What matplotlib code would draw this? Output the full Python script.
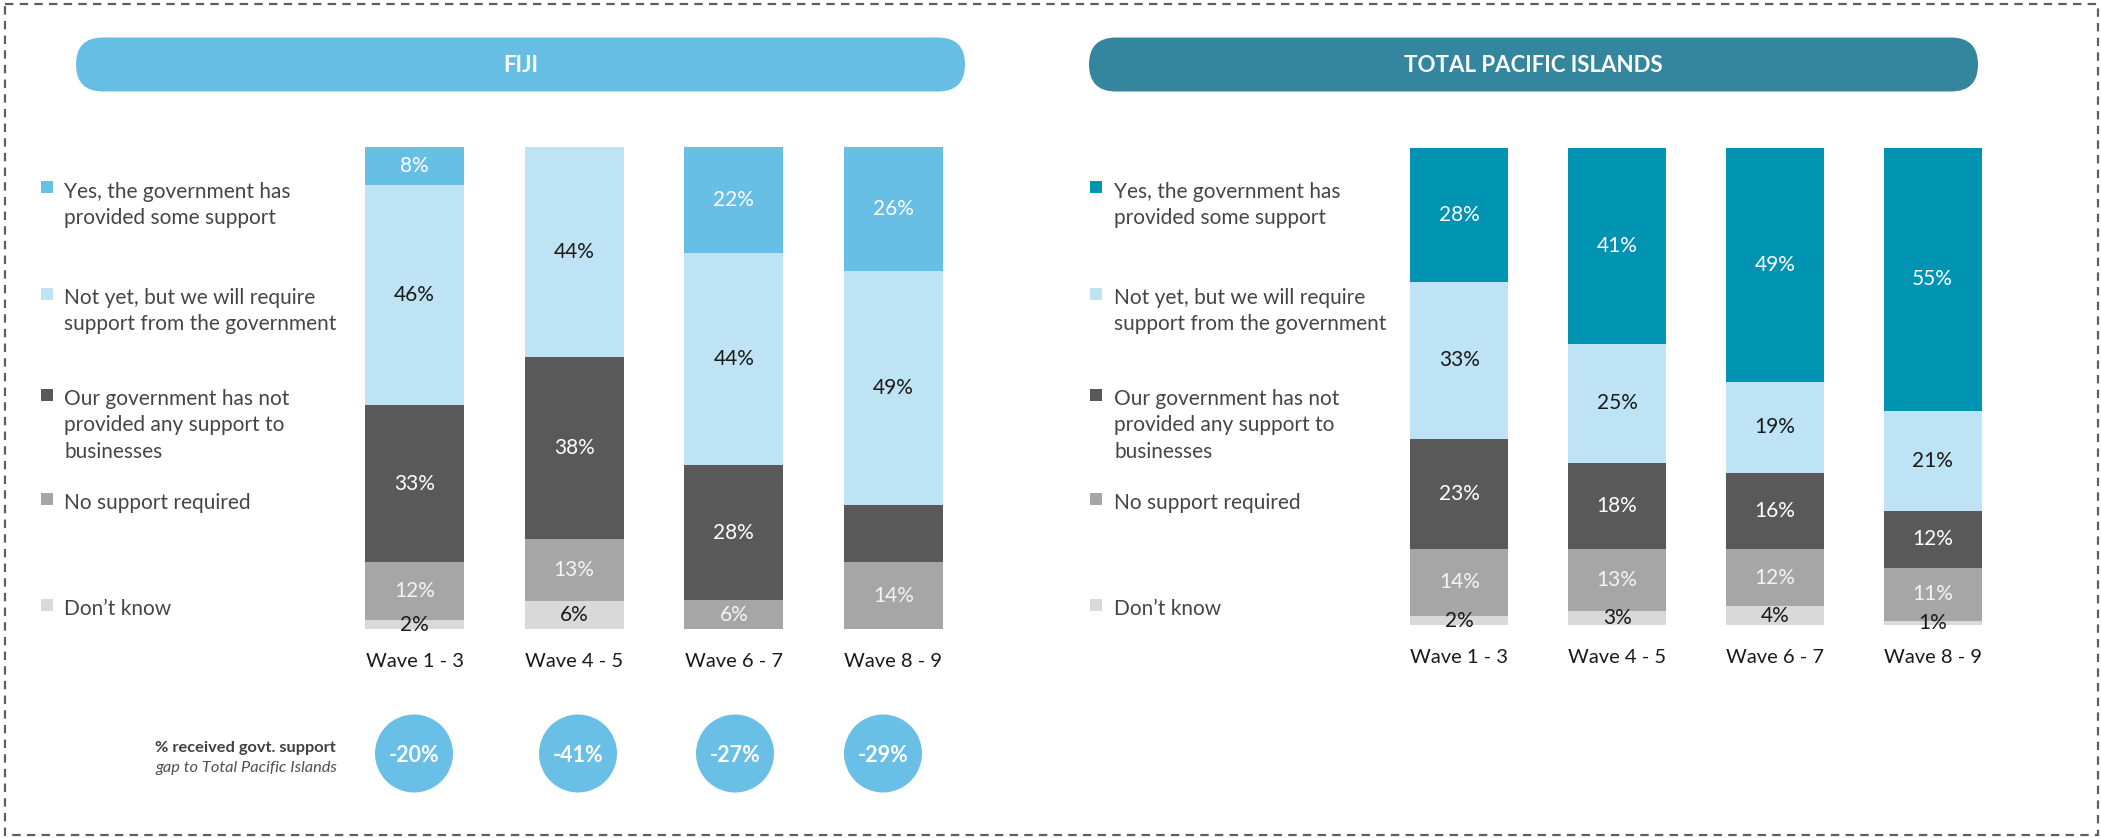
import matplotlib
matplotlib.use("Agg")
import matplotlib.pyplot as plt
from matplotlib.patches import FancyBboxPatch, Rectangle, Circle
import matplotlib.transforms as mtransforms

plt.rcParams['font.family'] = ['Lato', 'DejaVu Sans']

# ---------------- data ----------------
waves = ["Wave 1 - 3", "Wave 4 - 5", "Wave 6 - 7", "Wave 8 - 9"]
categories = ["Yes, the government has\nprovided some support",
              "Not yet, but we will require\nsupport from the government",
              "Our government has not\nprovided any support to\nbusinesses",
              "No support required",
              "Don\u2019t know"]

fiji_yes = [8, 0, 22, 26]
fiji_notyet = [46, 44, 44, 49]
fiji_notprov = [33, 38, 28, 12]
fiji_nosupport = [12, 13, 6, 14]
fiji_dk = [2, 6, 0, 0]
fiji_hidden_labels = [(2, 3)]  # (category index, wave index) not labelled in original

tpi_yes = [28, 41, 49, 55]
tpi_notyet = [33, 25, 19, 21]
tpi_notprov = [23, 18, 16, 12]
tpi_nosupport = [14, 13, 12, 11]
tpi_dk = [2, 3, 4, 1]

gap_values = ["-20%", "-41%", "-27%", "-29%"]

# ---------------- style ----------------
W, H = 2101, 838
FIJI_BLUE = "#68BFE5"
TPI_TEAL = "#0093B2"
NOTYET = "#BEE3F4"
NOTPROV = "#595959"
NOSUP = "#A6A6A6"
DK = "#D9D9D9"
fiji_colors = [FIJI_BLUE, NOTYET, NOTPROV, NOSUP, DK]
tpi_colors = [TPI_TEAL, NOTYET, NOTPROV, NOSUP, DK]
label_colors = ["white", "#1a1a1a", "white", "#f4f4f4", "#1a1a1a"]

fig = plt.figure(figsize=(W / 100, H / 100), dpi=100)
fig.patch.set_facecolor("white")

bg = fig.add_axes([0, 0, 1, 1])
bg.set_xlim(0, W)
bg.set_ylim(H, 0)
bg.axis("off")


def px_axes(left, right, top, bottom):
    return fig.add_axes([left / W, 1 - bottom / H, (right - left) / W, (bottom - top) / H])


# dashed frame
bg.add_patch(Rectangle((5, 4.5), 2093, 830.5, fill=False, edgecolor="#5f5f5f",
                       linewidth=1.6, linestyle=(0, (3.8, 2.8))))

# banners
for (x0, x1, col, txt) in [(76, 965, "#67BEE5", "FIJI"),
                           (1089, 1978, "#33869E", "TOTAL PACIFIC ISLANDS")]:
    bg.add_patch(FancyBboxPatch((x0, 37.5), x1 - x0, 54,
                                boxstyle="round,pad=0,rounding_size=27",
                                facecolor=col, edgecolor="none"))
    bg.text((x0 + x1) / 2, 65, txt, color="white", fontsize=16, fontweight="bold",
            ha="center", va="center")

# legends
legend_first_line_y = [191, 297, 398, 502, 608]
for (sq_x, txt_x, cols) in [(41, 64, fiji_colors), (1090, 1114, tpi_colors)]:
    for i, lab in enumerate(categories):
        y0 = legend_first_line_y[i]
        bg.add_patch(Rectangle((sq_x, y0 - 9.5), 12, 12, facecolor=cols[i], edgecolor="none"))
        for k, line in enumerate(lab.split("\n")):
            bg.text(txt_x, y0 + 7 + k * 26.3, line, color="#454545", fontsize=15,
                    ha="left", va="baseline")


def draw_panel(ax, series, colors, base_px, hidden=()):
    n = len(waves)
    totals = [sum(s[j] for s in series) for j in range(n)]
    bottoms = [0.0] * n
    order = list(range(len(series)))[::-1]
    for ci in order:
        vals = series[ci]
        heights = [vals[j] / totals[j] * 100 for j in range(n)]
        ax.bar(range(n), heights, bottom=bottoms, width=0.62, color=colors[ci], linewidth=0)
        for j in range(n):
            if vals[j] > 0 and (ci, j) not in hidden:
                ax.text(j, bottoms[j] + heights[j] / 2, f"{vals[j]}%", ha="center",
                        va="center", fontsize=15, color=label_colors[ci])
        bottoms = [bottoms[j] + heights[j] for j in range(n)]
    ax.set_xlim(-0.5, n - 0.5)
    ax.set_ylim(0, 100)
    ax.axis("off")
    tr = mtransforms.blended_transform_factory(ax.transData, bg.transData)
    for j, w in enumerate(waves):
        ax.text(j, base_px, w, transform=tr, ha="center", va="baseline",
                fontsize=14.5, color="#1a1a1a", clip_on=False)


ax_f = px_axes(334.8, 973.2, 146.7, 629.3)
draw_panel(ax_f, [fiji_yes, fiji_notyet, fiji_notprov, fiji_nosupport, fiji_dk],
           fiji_colors, 667, hidden=fiji_hidden_labels)

ax_t = px_axes(1380.4, 2011.6, 148, 625.3)
draw_panel(ax_t, [tpi_yes, tpi_notyet, tpi_notprov, tpi_nosupport, tpi_dk],
           tpi_colors, 663)

# gap circles
circle_x = [414, 578, 735, 883]
for cx, v in zip(circle_x, gap_values):
    bg.add_patch(Circle((cx, 753.5), 39, facecolor="#69BFE5", edgecolor="none"))
    bg.text(cx, 755, v, ha="center", va="center", color="white", fontsize=15.5,
            fontweight="bold")

bg.text(336, 748, "% received govt. support", ha="right", va="center", fontsize=11.8,
        fontweight="bold", color="#404040")
bg.text(337, 767.5, "gap to Total Pacific Islands", ha="right", va="center", fontsize=11.8,
        style="italic", color="#505050")

fig.savefig("out.png", dpi=100, facecolor="white")
